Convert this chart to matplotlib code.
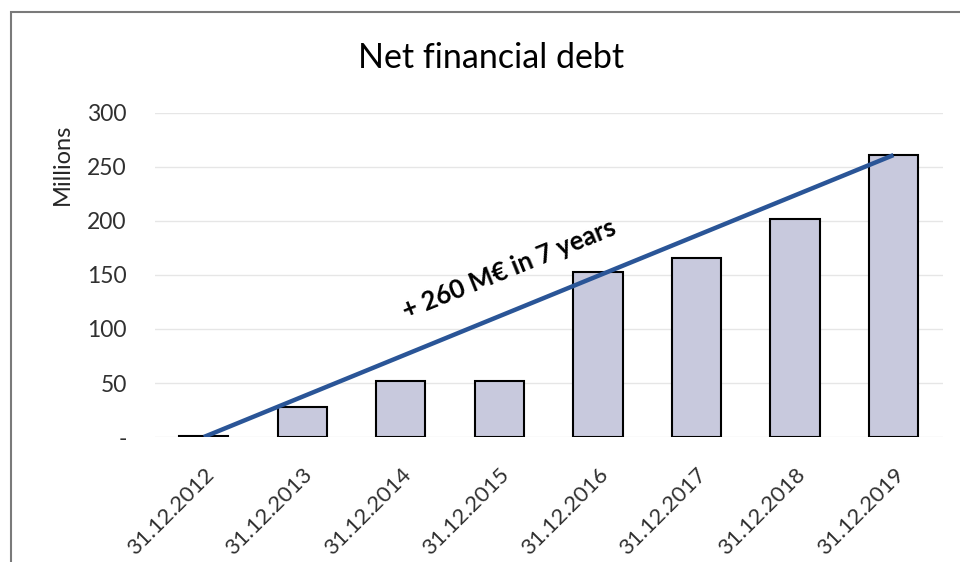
import matplotlib
matplotlib.use("Agg")
import matplotlib.pyplot as plt
from matplotlib.patches import Rectangle

plt.rcParams['font.family'] = ['Lato', 'DejaVu Sans']

dates = ["31.12.2012", "31.12.2013", "31.12.2014", "31.12.2015",
         "31.12.2016", "31.12.2017", "31.12.2018", "31.12.2019"]
debt = [1, 28, 52, 52, 153, 166, 202, 261]
trend_start = 0
trend_end = 261
yticks = [0, 50, 100, 150, 200, 250, 300]
ytick_labels = ["-", "50", "100", "150", "200", "250", "300"]

fig = plt.figure(figsize=(9.6, 5.62), dpi=100)
ax = fig.add_axes([0.161, 0.2224, 0.821, 0.5766])

x = list(range(len(dates)))
ax.bar(x, debt, width=0.5, color="#c8c9dd", edgecolor="black", linewidth=1.5, zorder=2)

# trend line from first to last year
ax.plot([x[0], x[-1]], [trend_start, trend_end], color="#2a5597", linewidth=3.2,
        solid_capstyle="butt", zorder=3)
ax.text(3.1, 155, "+ 260 M€ in 7 years", rotation=22, fontsize=18.5, fontweight="bold",
        ha="center", va="center", color="black", rotation_mode="anchor")

ax.set_xlim(-0.5, len(dates) - 0.5)
ax.set_ylim(0, 300)
ax.set_yticks(yticks)
ax.set_yticklabels(ytick_labels, fontsize=16.5, color="#303030")
ax.set_xticks(x)
ax.set_xticklabels(dates, rotation=45, ha="right", rotation_mode="anchor",
                   fontsize=16, color="#303030")
ax.tick_params(length=0)
ax.tick_params(axis="y", pad=20)
ax.tick_params(axis="x", pad=20)
ax.grid(axis="y", color="#e6e6e6", linewidth=1, zorder=0)
ax.set_axisbelow(True)
for s in ax.spines.values():
    s.set_visible(False)

fig.text(0.512, 0.897, "Net financial debt", fontsize=24.5, ha="center", va="center", color="black")
fig.text(0.065, 0.708, "Millions", fontsize=17, rotation=90, ha="center", va="center", color="#262626")

# outer chart frame
fig.patches.append(Rectangle((0.011, -0.05), 1.2, 1.028, transform=fig.transFigure,
                             fill=False, edgecolor="#7a7a7a", linewidth=1.5))

plt.savefig("out.png", dpi=100)
